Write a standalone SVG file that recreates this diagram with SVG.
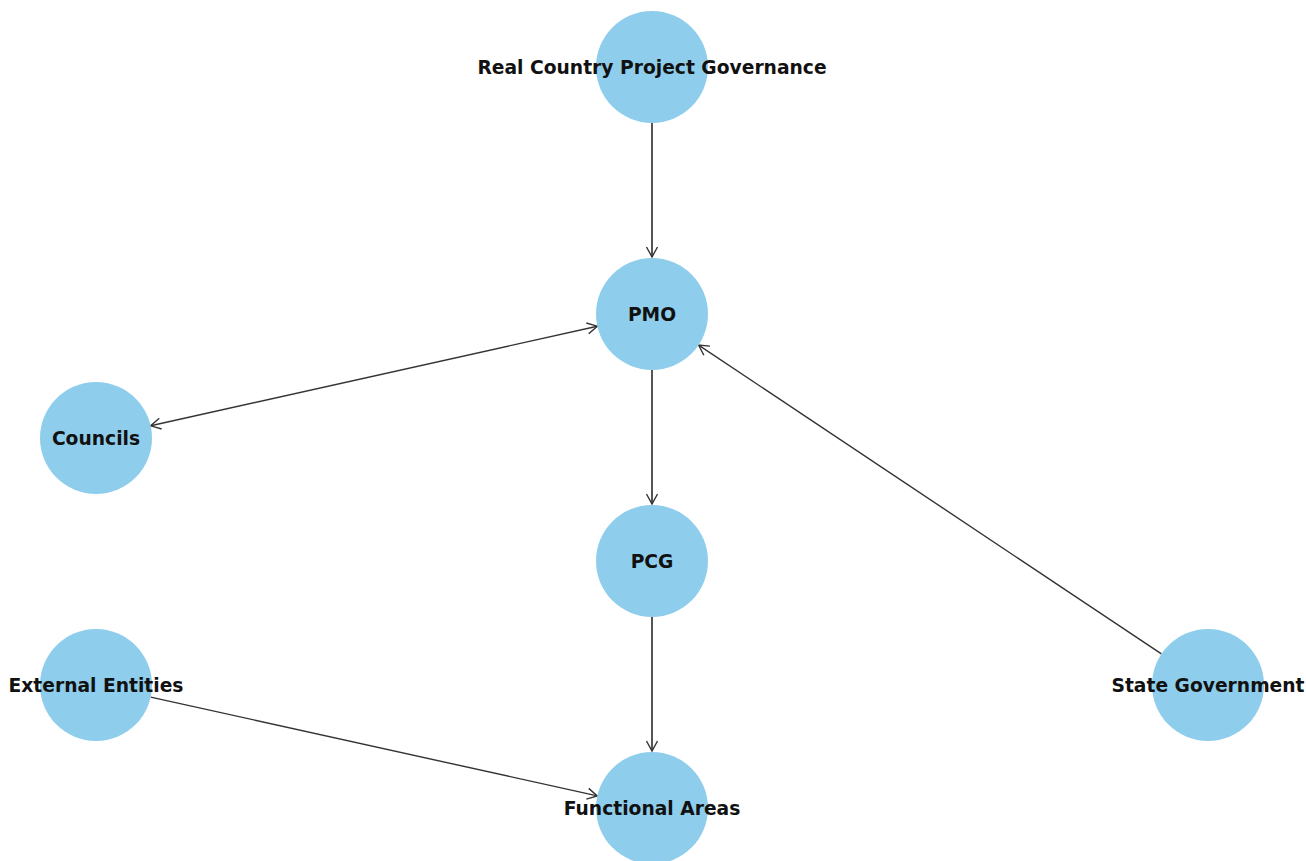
<svg xmlns="http://www.w3.org/2000/svg" width="1306" height="861" viewBox="0 0 1306 861">
<style>
.node circle{fill:#8ECEEC;}
.node text{font-family:"DejaVu Sans",sans-serif;font-weight:bold;font-size:18.7px;fill:#111;text-anchor:middle;dominant-baseline:central;}
.edge{stroke:#333;stroke-width:1.4;fill:none;}
.vedge{stroke:#555;stroke-width:2;}
</style>
<defs>
<marker id="ah" viewBox="-12 -7 14 14" markerWidth="14" markerHeight="14" refX="0" refY="0" orient="auto-start-reverse" markerUnits="userSpaceOnUse">
<path d="M-10,-5.5 L0,0 L-10,5.5" fill="none" stroke="#333" stroke-width="1.4"/>
</marker>
</defs>
<rect width="1306" height="861" fill="#fff"/>
<g id="connectors">
<line class="edge vedge" x1="652" y1="123" x2="652" y2="257" marker-end="url(#ah)"/>
<line class="edge vedge" x1="652" y1="370" x2="652" y2="504" marker-end="url(#ah)"/>
<line class="edge vedge" x1="652" y1="617" x2="652" y2="751" marker-end="url(#ah)"/>
<line class="edge" x1="597.3" y1="326.2" x2="150.7" y2="425.8" marker-start="url(#ah)" marker-end="url(#ah)"/>
<line class="edge" x1="1161.4" y1="653.9" x2="698.6" y2="345.1" marker-end="url(#ah)"/>
<line class="edge" x1="150.7" y1="697.1" x2="597.3" y2="795.9" marker-end="url(#ah)"/>
</g>
<g id="node-rcpg" class="node"><circle cx="652" cy="67" r="56"/><text x="652" y="67">Real Country Project Governance</text></g>
<g id="node-pmo" class="node"><circle cx="652" cy="314" r="56"/><text x="652" y="314">PMO</text></g>
<g id="node-councils" class="node"><circle cx="96" cy="438" r="56"/><text x="96" y="438">Councils</text></g>
<g id="node-pcg" class="node"><circle cx="652" cy="561" r="56"/><text x="652" y="561">PCG</text></g>
<g id="node-external" class="node"><circle cx="96" cy="685" r="56"/><text x="96" y="685">External Entities</text></g>
<g id="node-functional" class="node"><circle cx="652" cy="808" r="56"/><text x="652" y="808">Functional Areas</text></g>
<g id="node-state" class="node"><circle cx="1208" cy="685" r="56"/><text x="1208" y="685">State Government</text></g>
</svg>
